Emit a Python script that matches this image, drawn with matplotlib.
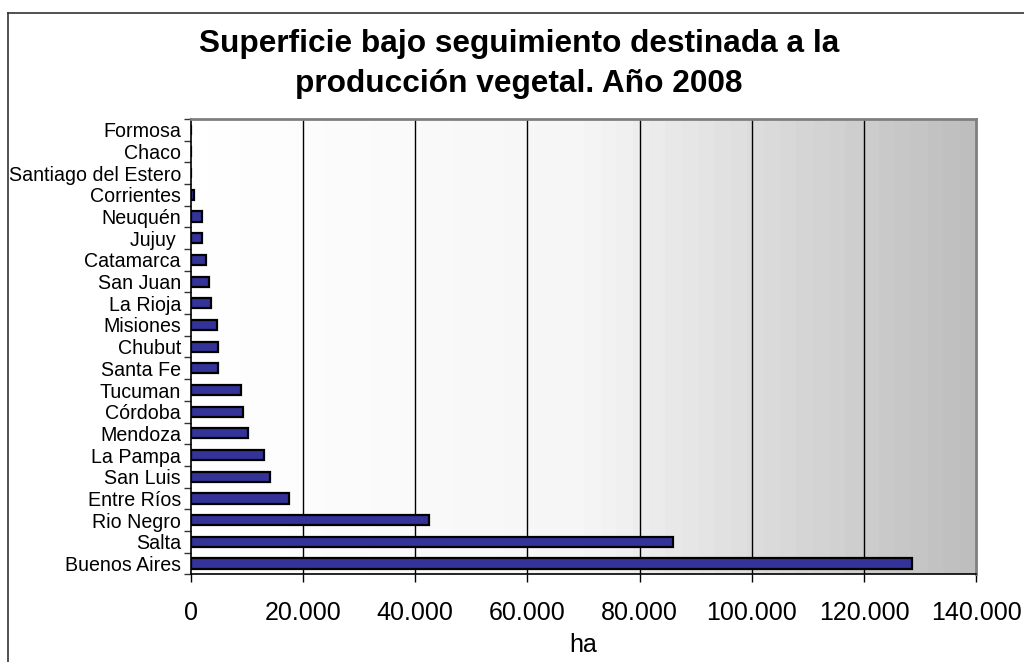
import matplotlib
matplotlib.use("Agg")
import matplotlib.pyplot as plt
import numpy as np
from matplotlib.lines import Line2D
from matplotlib.colors import LinearSegmentedColormap

plt.rcParams['font.family'] = ['Liberation Sans', 'DejaVu Sans']

# Categories listed from bottom to top
provincias = ["Buenos Aires", "Salta", "Rio Negro", "Entre Ríos", "San Luis",
              "La Pampa", "Mendoza", "Córdoba", "Tucuman", "Santa Fe", "Chubut",
              "Misiones", "La Rioja", "San Juan", "Catamarca", "Jujuy ", "Neuquén",
              "Corrientes", "Santiago del Estero", "Chaco", "Formosa"]
superficie = [128600, 85900, 42500, 17500, 14200,
              13100, 10300, 9300, 8900, 4950, 4950,
              4600, 3600, 3200, 2800, 2100, 2100,
              650, 0, 0, 0]
xticks = [0, 20000, 40000, 60000, 80000, 100000, 120000, 140000]
xtick_labels = ["0", "20.000", "40.000", "60.000", "80.000", "100.000", "120.000", "140.000"]
titulo = "Superficie bajo seguimiento destinada a la\nproducción vegetal. Año 2008"
xlabel = "ha"

W, H = 1024, 662
fig = plt.figure(figsize=(W / 100, H / 100), dpi=100)
ax = fig.add_axes([190.7 / W, 1 - 574.3 / H, (976.3 - 190.7) / W, (574.3 - 119) / H])

n = len(provincias)
ax.set_xlim(0, 140000)
ax.set_ylim(-0.5, n - 0.5)

# gradient background
cmap = LinearSegmentedColormap.from_list("g", ["#ffffff", "#f6f6f6", "#bebebe"], N=48)
grad = np.linspace(0, 1, 512).reshape(1, -1)
ax.imshow(grad, extent=[0, 140000, -0.5, n - 0.5], aspect="auto", cmap=cmap,
          interpolation="nearest", zorder=0)

# gridlines
for xv in xticks[1:-1]:
    ax.axvline(xv, color="black", lw=1.0, zorder=1)

y = np.arange(n)
ax.barh(y, superficie, height=0.47, color="#333399", edgecolor="black", linewidth=1.6, zorder=3)

ax.set_xticks(xticks)
ax.set_xticklabels(xtick_labels, fontsize=18)
ax.tick_params(axis="x", direction="out", length=6, width=1, pad=13, colors="black")

ax.set_yticks(y)
ax.set_yticklabels(provincias, fontsize=14.1)
ax.tick_params(axis="y", which="major", length=0, pad=7)
ax.set_yticks(np.arange(-0.5, n, 1), minor=True)
ax.tick_params(axis="y", which="minor", direction="out", length=5, width=1, color="#333333")

ax.set_xlabel(xlabel, fontsize=18, labelpad=6)

for s in ["left", "bottom"]:
    ax.spines[s].set_color("black")
    ax.spines[s].set_linewidth(1.2)
for s in ["top", "right"]:
    ax.spines[s].set_color("#808080")
    ax.spines[s].set_linewidth(2)

fig.text(519 / W, 1 - 64 / H, titulo, ha="center", va="center", fontsize=22.8,
         fontweight="bold", linespacing=1.42)

# outer chart frame
fig.add_artist(Line2D([8 / W, 8 / W], [0, 1 - 12.7 / H], transform=fig.transFigure,
                      color="#333333", lw=1.2))
fig.add_artist(Line2D([8 / W, 1], [1 - 12.7 / H, 1 - 12.7 / H], transform=fig.transFigure,
                      color="#333333", lw=1.2))

fig.savefig("out.png", dpi=100)
